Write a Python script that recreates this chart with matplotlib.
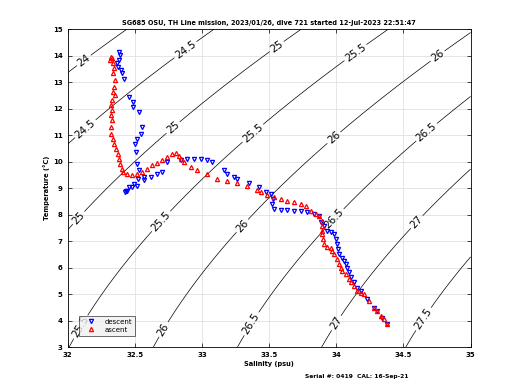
import numpy as np
import matplotlib
matplotlib.use("Agg")
import matplotlib.pyplot as plt

# ---- data ----
desc_S = [32.382, 32.390, 32.382, 32.365, 32.375, 32.394, 32.407, 32.419, 32.457, 32.489,
          32.489, 32.531, 32.556, 32.543, 32.519, 32.499, 32.506, 32.519, 32.531, 32.568,
          32.523, 32.494, 32.457, 32.432, 32.424, 32.444, 32.481, 32.519, 32.568, 32.618,
          32.667, 32.705, 32.742, 32.841, 32.891, 32.940, 32.990, 33.040, 33.077, 33.164,
          33.189, 33.238, 33.263, 33.350, 33.424,
          33.474, 33.511, 33.531, 33.524, 33.536, 33.586, 33.635, 33.685, 33.735, 33.784,
          33.834, 33.871, 33.888, 33.908, 33.933, 33.958, 33.983, 33.995, 34.007, 34.012,
          34.020, 34.045, 34.057, 34.069, 34.082, 34.094, 34.107, 34.131, 34.156, 34.181,
          34.231, 34.280, 34.305, 34.342, 34.379]
desc_T = [14.15, 14.02, 13.83, 13.71, 13.58, 13.45, 13.33, 13.14, 12.44, 12.26,
          12.07, 11.88, 11.31, 11.06, 10.87, 10.68, 10.36, 9.92, 9.67, 9.41,
          9.35, 9.16, 9.03, 8.91, 8.85, 8.88, 9.03, 9.10, 9.29, 9.44,
          9.54, 9.60, 9.98, 10.07, 10.11, 10.11, 10.11, 10.05, 9.98, 9.67,
          9.54, 9.41, 9.35, 9.19, 9.03,
          8.85, 8.78, 8.59, 8.40, 8.21, 8.19, 8.18, 8.15, 8.15, 8.09,
          8.02, 7.96, 7.71, 7.58, 7.39, 7.33, 7.27, 7.08, 6.89, 6.70,
          6.51, 6.38, 6.26, 6.13, 6.00, 5.82, 5.63, 5.44, 5.25, 5.12,
          4.80, 4.49, 4.36, 4.11, 3.86]

asc_S = [34.379, 34.355, 34.330, 34.305, 34.280, 34.243, 34.206, 34.181, 34.156, 34.131,
         34.107, 34.094, 34.069, 34.045, 34.032, 34.020, 34.002, 33.983, 33.970, 33.958,
         33.933, 33.908, 33.903, 33.896, 33.896, 33.896, 33.891, 33.871, 33.846, 33.809,
         33.772, 33.735, 33.685, 33.635, 33.586, 33.536, 33.486, 33.437, 33.412,
         33.337, 33.263, 33.189, 33.114, 33.040, 32.965, 32.916, 32.866, 32.846, 32.829,
         32.804, 32.779, 32.742, 32.705, 32.667, 32.630, 32.593, 32.556, 32.519, 32.481,
         32.444, 32.414, 32.402, 32.390, 32.382, 32.375, 32.357, 32.345, 32.340, 32.320,
         32.325, 32.333, 32.320, 32.333, 32.320, 32.333, 32.350, 32.340, 32.345, 32.350,
         32.340, 32.345, 32.340, 32.315, 32.333, 32.320]
asc_T = [3.86, 4.05, 4.17, 4.36, 4.49, 4.74, 4.99, 5.06, 5.12, 5.31,
         5.44, 5.56, 5.75, 5.88, 6.00, 6.13, 6.32, 6.51, 6.64, 6.76,
         6.79, 6.89, 7.08, 7.27, 7.39, 7.58, 7.77, 7.96, 8.02, 8.15,
         8.34, 8.40, 8.47, 8.53, 8.59, 8.68, 8.76, 8.85, 8.93,
         9.10, 9.19, 9.26, 9.35, 9.52, 9.67, 9.79, 9.98, 10.11, 10.23,
         10.32, 10.30, 10.17, 10.05, 9.94, 9.86, 9.73, 9.60, 9.52, 9.50,
         9.52, 9.60, 9.73, 9.92, 10.11, 10.30, 10.49, 10.68, 10.87, 11.06,
         11.31, 11.56, 11.75, 11.94, 12.13, 12.32, 12.51, 12.63, 12.82, 13.08,
         13.33, 13.52, 13.71, 13.83, 13.90, 13.96]

sigma_levels = [24, 24.5, 25, 25.5, 26, 26.5, 27, 27.5]
x_ticks = [32, 32.5, 33, 33.5, 34, 34.5, 35]
y_ticks = list(range(3, 16))

title = "SG685 OSU, TH Line mission, 2023/01/26, dive 721 started 12-Jul-2023 22:51:47"
footer = "Serial #: 0419  CAL: 16-Sep-21"


def sigma0(S, T):
    rw = (999.842594 + 6.793952e-2 * T - 9.095290e-3 * T**2 + 1.001685e-4 * T**3
          - 1.120083e-6 * T**4 + 6.536332e-9 * T**5)
    A = 0.824493 - 4.0899e-3 * T + 7.6438e-5 * T**2 - 8.2467e-7 * T**3 + 5.3875e-9 * T**4
    B = -5.72466e-3 + 1.0227e-4 * T - 1.6546e-6 * T**2
    C = 4.8314e-4
    return rw + A * S + B * S**1.5 + C * S**2 - 1000.0


fig = plt.figure(figsize=(5.2, 3.9), dpi=100)
ax = fig.add_axes([0.13, 0.11, 0.775, 0.815])

sg = np.linspace(32, 35, 300)
tg = np.linspace(3, 15, 300)
SS, TT = np.meshgrid(sg, tg)
cs = ax.contour(SS, TT, sigma0(SS, TT), levels=sigma_levels, colors='k', linewidths=0.5)
label_pos = [(32.12, 13.83), (32.88, 14.21), (32.13, 11.26), (32.79, 11.26), (33.55, 14.4),
             (33.38, 11.07), (34.14, 14.14), (34.75, 14.02), (33.98, 10.92), (34.68, 11.07),
             (32.08, 7.89), (32.69, 7.78), (33.30, 7.58), (32.11, 3.72), (32.71, 3.68),
             (33.36, 3.91), (33.96, 7.96), (34.59, 7.77), (34.0, 3.91), (34.65, 4.06)]
ax.clabel(cs, fontsize=7.5, fmt=lambda v: f"{v:g}", manual=label_pos, inline=True, inline_spacing=2)

ax.plot(desc_S, desc_T, linestyle='none', marker='v', markersize=3, color='blue',
        markerfacecolor='none', markeredgewidth=0.9, label='descent')
ax.plot(asc_S, asc_T, linestyle='none', marker='^', markersize=3, color='red',
        markerfacecolor='none', markeredgewidth=0.9, label='ascent')

ax.set_xlim(32, 35)
ax.set_ylim(3, 15)
ax.set_xticks(x_ticks)
ax.set_xticklabels([f"{v:g}" for v in x_ticks])
ax.set_yticks(y_ticks)
ax.grid(True, color='#e0e0e0', linewidth=0.6)
ax.set_axisbelow(True)
ax.tick_params(direction='in', length=3, width=0.5, labelsize=5, top=True, right=True)
for lab in ax.get_xticklabels() + ax.get_yticklabels():
    lab.set_fontweight('bold')
for sp in ax.spines.values():
    sp.set_linewidth(0.6)

ax.set_title(title, fontsize=4.7, fontweight='bold', pad=3)
ax.set_xlabel("Salinity (psu)", fontsize=4.8, fontweight='bold', labelpad=2)
ax.set_ylabel("Temperature (\u00b0C)", fontsize=4.8, fontweight='bold', labelpad=2)
leg = ax.legend(loc='lower left', fontsize=5, frameon=True, fancybox=False,
                bbox_to_anchor=(0.02, 0.025), borderpad=0.4, handlelength=2.5,
                labelspacing=0.3)
leg.get_frame().set_edgecolor('black')
leg.get_frame().set_linewidth(0.5)
leg.get_frame().set_facecolor('#f0f0f0')
fig.text(0.687, 0.03, footer, fontsize=4.3, fontweight='bold', ha='center')

fig.savefig("out.png", dpi=100)
